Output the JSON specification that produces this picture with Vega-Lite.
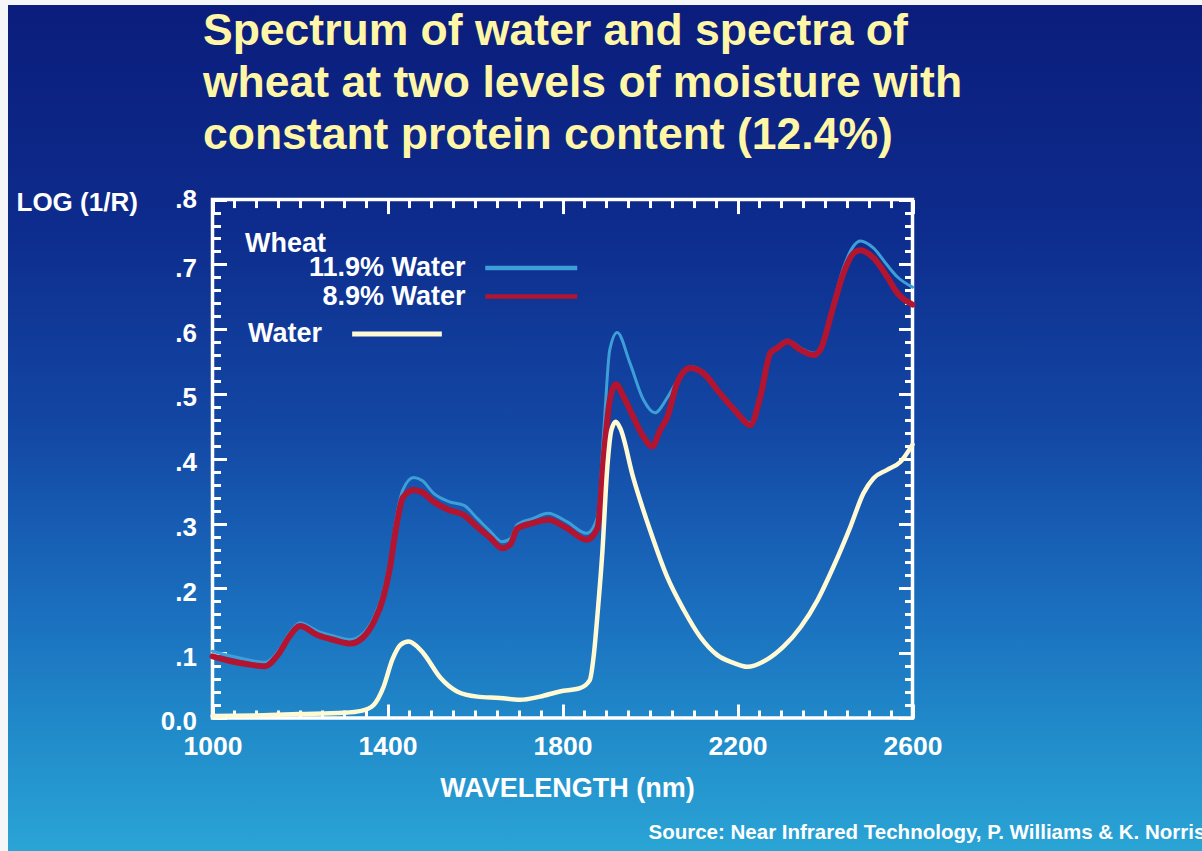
{
  "$schema": "https://vega.github.io/schema/vega-lite/v6.json",
  "width": 1194,
  "height": 846,
  "autosize": {"type": "none"},
  "padding": {"left": 8, "top": 5, "right": 0, "bottom": 0},
  "background": "#f4f6f8",
  "title": {
    "text": ["Spectrum of water and spectra of", "wheat at two levels of moisture with", "constant protein content (12.4%)"],
    "orient": "top",
    "anchor": "start",
    "frame": "group",
    "baseline": "top",
    "offset": 0,
    "dx": 195,
    "dy": 153,
    "font": "Liberation Sans",
    "fontSize": 44.5,
    "fontWeight": "bold",
    "color": "#fff6a6",
    "lineHeight": 52
  },
  "datasets": {
    "frame": [{"x1": 1000, "x2": 2600, "y1": 0, "y2": 0.8}],
    "spectra": [
      {"wl": 1000, "r": 0.103, "series": "11.9% Water"},
      {"wl": 1040, "r": 0.096, "series": "11.9% Water"},
      {"wl": 1080, "r": 0.090, "series": "11.9% Water"},
      {"wl": 1120, "r": 0.086, "series": "11.9% Water"},
      {"wl": 1150, "r": 0.103, "series": "11.9% Water"},
      {"wl": 1175, "r": 0.130, "series": "11.9% Water"},
      {"wl": 1200, "r": 0.147, "series": "11.9% Water"},
      {"wl": 1240, "r": 0.134, "series": "11.9% Water"},
      {"wl": 1280, "r": 0.126, "series": "11.9% Water"},
      {"wl": 1315, "r": 0.121, "series": "11.9% Water"},
      {"wl": 1345, "r": 0.131, "series": "11.9% Water"},
      {"wl": 1370, "r": 0.157, "series": "11.9% Water"},
      {"wl": 1390, "r": 0.193, "series": "11.9% Water"},
      {"wl": 1405, "r": 0.240, "series": "11.9% Water"},
      {"wl": 1420, "r": 0.308, "series": "11.9% Water"},
      {"wl": 1435, "r": 0.352, "series": "11.9% Water"},
      {"wl": 1460, "r": 0.371, "series": "11.9% Water"},
      {"wl": 1480, "r": 0.366, "series": "11.9% Water"},
      {"wl": 1505, "r": 0.347, "series": "11.9% Water"},
      {"wl": 1540, "r": 0.334, "series": "11.9% Water"},
      {"wl": 1575, "r": 0.328, "series": "11.9% Water"},
      {"wl": 1605, "r": 0.308, "series": "11.9% Water"},
      {"wl": 1635, "r": 0.288, "series": "11.9% Water"},
      {"wl": 1662, "r": 0.272, "series": "11.9% Water"},
      {"wl": 1681, "r": 0.277, "series": "11.9% Water"},
      {"wl": 1696, "r": 0.298, "series": "11.9% Water"},
      {"wl": 1733, "r": 0.308, "series": "11.9% Water"},
      {"wl": 1767, "r": 0.316, "series": "11.9% Water"},
      {"wl": 1810, "r": 0.303, "series": "11.9% Water"},
      {"wl": 1855, "r": 0.285, "series": "11.9% Water"},
      {"wl": 1880, "r": 0.310, "series": "11.9% Water"},
      {"wl": 1895, "r": 0.450, "series": "11.9% Water"},
      {"wl": 1908, "r": 0.568, "series": "11.9% Water"},
      {"wl": 1925, "r": 0.595, "series": "11.9% Water"},
      {"wl": 1954, "r": 0.548, "series": "11.9% Water"},
      {"wl": 1985, "r": 0.491, "series": "11.9% Water"},
      {"wl": 2011, "r": 0.471, "series": "11.9% Water"},
      {"wl": 2040, "r": 0.495, "series": "11.9% Water"},
      {"wl": 2062, "r": 0.520, "series": "11.9% Water"},
      {"wl": 2092, "r": 0.542, "series": "11.9% Water"},
      {"wl": 2122, "r": 0.534, "series": "11.9% Water"},
      {"wl": 2160, "r": 0.503, "series": "11.9% Water"},
      {"wl": 2199, "r": 0.473, "series": "11.9% Water"},
      {"wl": 2229, "r": 0.455, "series": "11.9% Water"},
      {"wl": 2252, "r": 0.497, "series": "11.9% Water"},
      {"wl": 2275, "r": 0.565, "series": "11.9% Water"},
      {"wl": 2291, "r": 0.573, "series": "11.9% Water"},
      {"wl": 2314, "r": 0.583, "series": "11.9% Water"},
      {"wl": 2344, "r": 0.571, "series": "11.9% Water"},
      {"wl": 2374, "r": 0.563, "series": "11.9% Water"},
      {"wl": 2389, "r": 0.571, "series": "11.9% Water"},
      {"wl": 2419, "r": 0.640, "series": "11.9% Water"},
      {"wl": 2442, "r": 0.694, "series": "11.9% Water"},
      {"wl": 2465, "r": 0.728, "series": "11.9% Water"},
      {"wl": 2481, "r": 0.736, "series": "11.9% Water"},
      {"wl": 2511, "r": 0.725, "series": "11.9% Water"},
      {"wl": 2542, "r": 0.699, "series": "11.9% Water"},
      {"wl": 2565, "r": 0.681, "series": "11.9% Water"},
      {"wl": 2600, "r": 0.665, "series": "11.9% Water"},
      {"wl": 1000, "r": 0.095, "series": "8.9% Water"},
      {"wl": 1040, "r": 0.088, "series": "8.9% Water"},
      {"wl": 1080, "r": 0.083, "series": "8.9% Water"},
      {"wl": 1120, "r": 0.080, "series": "8.9% Water"},
      {"wl": 1150, "r": 0.098, "series": "8.9% Water"},
      {"wl": 1175, "r": 0.125, "series": "8.9% Water"},
      {"wl": 1200, "r": 0.142, "series": "8.9% Water"},
      {"wl": 1240, "r": 0.128, "series": "8.9% Water"},
      {"wl": 1280, "r": 0.120, "series": "8.9% Water"},
      {"wl": 1315, "r": 0.115, "series": "8.9% Water"},
      {"wl": 1345, "r": 0.125, "series": "8.9% Water"},
      {"wl": 1370, "r": 0.150, "series": "8.9% Water"},
      {"wl": 1390, "r": 0.185, "series": "8.9% Water"},
      {"wl": 1405, "r": 0.230, "series": "8.9% Water"},
      {"wl": 1420, "r": 0.295, "series": "8.9% Water"},
      {"wl": 1435, "r": 0.340, "series": "8.9% Water"},
      {"wl": 1460, "r": 0.352, "series": "8.9% Water"},
      {"wl": 1480, "r": 0.348, "series": "8.9% Water"},
      {"wl": 1505, "r": 0.334, "series": "8.9% Water"},
      {"wl": 1540, "r": 0.321, "series": "8.9% Water"},
      {"wl": 1575, "r": 0.313, "series": "8.9% Water"},
      {"wl": 1605, "r": 0.295, "series": "8.9% Water"},
      {"wl": 1635, "r": 0.278, "series": "8.9% Water"},
      {"wl": 1662, "r": 0.262, "series": "8.9% Water"},
      {"wl": 1681, "r": 0.268, "series": "8.9% Water"},
      {"wl": 1696, "r": 0.292, "series": "8.9% Water"},
      {"wl": 1733, "r": 0.301, "series": "8.9% Water"},
      {"wl": 1767, "r": 0.306, "series": "8.9% Water"},
      {"wl": 1810, "r": 0.293, "series": "8.9% Water"},
      {"wl": 1855, "r": 0.275, "series": "8.9% Water"},
      {"wl": 1880, "r": 0.293, "series": "8.9% Water"},
      {"wl": 1895, "r": 0.409, "series": "8.9% Water"},
      {"wl": 1908, "r": 0.490, "series": "8.9% Water"},
      {"wl": 1922, "r": 0.515, "series": "8.9% Water"},
      {"wl": 1940, "r": 0.495, "series": "8.9% Water"},
      {"wl": 1960, "r": 0.467, "series": "8.9% Water"},
      {"wl": 1985, "r": 0.434, "series": "8.9% Water"},
      {"wl": 2005, "r": 0.419, "series": "8.9% Water"},
      {"wl": 2023, "r": 0.444, "series": "8.9% Water"},
      {"wl": 2040, "r": 0.465, "series": "8.9% Water"},
      {"wl": 2062, "r": 0.517, "series": "8.9% Water"},
      {"wl": 2092, "r": 0.540, "series": "8.9% Water"},
      {"wl": 2122, "r": 0.532, "series": "8.9% Water"},
      {"wl": 2160, "r": 0.501, "series": "8.9% Water"},
      {"wl": 2199, "r": 0.471, "series": "8.9% Water"},
      {"wl": 2229, "r": 0.452, "series": "8.9% Water"},
      {"wl": 2252, "r": 0.495, "series": "8.9% Water"},
      {"wl": 2275, "r": 0.563, "series": "8.9% Water"},
      {"wl": 2291, "r": 0.571, "series": "8.9% Water"},
      {"wl": 2314, "r": 0.581, "series": "8.9% Water"},
      {"wl": 2344, "r": 0.568, "series": "8.9% Water"},
      {"wl": 2374, "r": 0.560, "series": "8.9% Water"},
      {"wl": 2389, "r": 0.568, "series": "8.9% Water"},
      {"wl": 2419, "r": 0.635, "series": "8.9% Water"},
      {"wl": 2442, "r": 0.686, "series": "8.9% Water"},
      {"wl": 2465, "r": 0.717, "series": "8.9% Water"},
      {"wl": 2481, "r": 0.722, "series": "8.9% Water"},
      {"wl": 2511, "r": 0.710, "series": "8.9% Water"},
      {"wl": 2542, "r": 0.681, "series": "8.9% Water"},
      {"wl": 2565, "r": 0.656, "series": "8.9% Water"},
      {"wl": 2600, "r": 0.638, "series": "8.9% Water"},
      {"wl": 1000, "r": 0.003, "series": "Water"},
      {"wl": 1100, "r": 0.004, "series": "Water"},
      {"wl": 1200, "r": 0.006, "series": "Water"},
      {"wl": 1300, "r": 0.008, "series": "Water"},
      {"wl": 1340, "r": 0.011, "series": "Water"},
      {"wl": 1368, "r": 0.020, "series": "Water"},
      {"wl": 1391, "r": 0.048, "series": "Water"},
      {"wl": 1411, "r": 0.090, "series": "Water"},
      {"wl": 1430, "r": 0.113, "series": "Water"},
      {"wl": 1448, "r": 0.118, "series": "Water"},
      {"wl": 1465, "r": 0.112, "series": "Water"},
      {"wl": 1482, "r": 0.100, "series": "Water"},
      {"wl": 1521, "r": 0.062, "series": "Water"},
      {"wl": 1559, "r": 0.041, "series": "Water"},
      {"wl": 1605, "r": 0.033, "series": "Water"},
      {"wl": 1657, "r": 0.031, "series": "Water"},
      {"wl": 1703, "r": 0.028, "series": "Water"},
      {"wl": 1749, "r": 0.033, "series": "Water"},
      {"wl": 1794, "r": 0.041, "series": "Water"},
      {"wl": 1840, "r": 0.046, "series": "Water"},
      {"wl": 1862, "r": 0.058, "series": "Water"},
      {"wl": 1872, "r": 0.100, "series": "Water"},
      {"wl": 1880, "r": 0.160, "series": "Water"},
      {"wl": 1891, "r": 0.255, "series": "Water"},
      {"wl": 1902, "r": 0.383, "series": "Water"},
      {"wl": 1912, "r": 0.445, "series": "Water"},
      {"wl": 1922, "r": 0.457, "series": "Water"},
      {"wl": 1932, "r": 0.447, "series": "Water"},
      {"wl": 1962, "r": 0.370, "series": "Water"},
      {"wl": 2000, "r": 0.290, "series": "Water"},
      {"wl": 2039, "r": 0.218, "series": "Water"},
      {"wl": 2077, "r": 0.167, "series": "Water"},
      {"wl": 2115, "r": 0.125, "series": "Water"},
      {"wl": 2154, "r": 0.097, "series": "Water"},
      {"wl": 2191, "r": 0.085, "series": "Water"},
      {"wl": 2222, "r": 0.079, "series": "Water"},
      {"wl": 2267, "r": 0.090, "series": "Water"},
      {"wl": 2305, "r": 0.110, "series": "Water"},
      {"wl": 2344, "r": 0.140, "series": "Water"},
      {"wl": 2383, "r": 0.182, "series": "Water"},
      {"wl": 2419, "r": 0.233, "series": "Water"},
      {"wl": 2458, "r": 0.295, "series": "Water"},
      {"wl": 2488, "r": 0.347, "series": "Water"},
      {"wl": 2511, "r": 0.370, "series": "Water"},
      {"wl": 2542, "r": 0.383, "series": "Water"},
      {"wl": 2572, "r": 0.395, "series": "Water"},
      {"wl": 2600, "r": 0.422, "series": "Water"}
    ]
  },
  "layer": [
    {
      "data": {"name": "frame"},
      "mark": {"type": "rect", "filled": false, "color": "#ffffff", "strokeWidth": 3.5},
      "encoding": {
        "x": {
          "field": "x1", "type": "quantitative",
          "scale": {"domain": [532.57, 3261.71], "nice": false, "zero": false},
          "axis": {
            "orient": "bottom", "offset": -133,
            "values": [1000,1050,1100,1150,1200,1250,1300,1350,1400,1450,1500,1550,1600,1650,1700,1750,1800,1850,1900,1950,2000,2050,2100,2150,2200,2250,2300,2350,2400,2450,2500,2550,2600],
            "format": "d",
            "tickSize": {"condition": {"test": "(datum.value - 1000) % 400 === 0", "value": -14}, "value": -8},
            "labelExpr": "(datum.value - 1000) % 400 === 0 ? datum.label : ''",
            "labelPadding": 29,
            "labelFontSize": 26.5,
            "title": "WAVELENGTH (nm)",
            "titleFontSize": 27,
            "titleX": 559, "titleY": 70, "titleAlign": "center", "titleBaseline": "middle", "titleAngle": 0
          }
        },
        "x2": {"field": "x2"},
        "y": {
          "field": "y1", "type": "quantitative",
          "scale": {"domain": [-0.20525, 1.10031], "nice": false, "zero": false},
          "axis": {
            "orient": "left", "offset": -204.5,
            "values": [0,0.02,0.04,0.06,0.08,0.1,0.12,0.14,0.16,0.18,0.2,0.22,0.24,0.26,0.28,0.3,0.32,0.34,0.36,0.38,0.4,0.42,0.44,0.46,0.48,0.5,0.52,0.54,0.56,0.58,0.6,0.62,0.64,0.66,0.68,0.7,0.72,0.74,0.76,0.78,0.8],
            "tickSize": {"condition": {"test": "round(datum.value*100) % 10 === 0", "value": -14}, "value": -8},
            "labelExpr": "round(datum.value*100) % 10 === 0 ? (datum.value === 0 ? '0.0' : '.' + round(datum.value*10)) : ''",
            "labelOffset": {"condition": {"test": "datum.value > 0.79", "value": 0}, "value": 4},
            "labelPadding": 30,
            "title": "LOG (1/R)",
            "titleAngle": 0, "titleX": -196.5, "titleY": 197, "titleAlign": "left", "titleBaseline": "middle"
          }
        },
        "y2": {"field": "y2"}
      }
    },
    {
      "data": {"name": "spectra"},
      "transform": [{"filter": "datum.series !== 'Water'"}],
      "mark": {"type": "line", "interpolate": "monotone", "strokeCap": "round", "strokeJoin": "round"},
      "encoding": {
        "x": {
          "field": "wl", "type": "quantitative",
          "scale": {"domain": [532.57, 3261.71], "nice": false, "zero": false},
          "axis": {
            "orient": "top", "offset": -194.6,
            "values": [1000,1050,1100,1150,1200,1250,1300,1350,1400,1450,1500,1550,1600,1650,1700,1750,1800,1850,1900,1950,2000,2050,2100,2150,2200,2250,2300,2350,2400,2450,2500,2550,2600],
            "tickSize": {"condition": {"test": "(datum.value - 1000) % 400 === 0", "value": -14}, "value": -8},
            "labels": false,
            "title": null
          }
        },
        "y": {
          "field": "r", "type": "quantitative",
          "scale": {"domain": [-0.20525, 1.10031], "nice": false, "zero": false},
          "axis": {
            "orient": "right", "offset": -289.5,
            "values": [0,0.02,0.04,0.06,0.08,0.1,0.12,0.14,0.16,0.18,0.2,0.22,0.24,0.26,0.28,0.3,0.32,0.34,0.36,0.38,0.4,0.42,0.44,0.46,0.48,0.5,0.52,0.54,0.56,0.58,0.6,0.62,0.64,0.66,0.68,0.7,0.72,0.74,0.76,0.78,0.8],
            "tickSize": {"condition": {"test": "round(datum.value*100) % 10 === 0", "value": -14}, "value": -8},
            "labels": false,
            "title": "Source: Near Infrared Technology, P. Williams & K. Norris",
            "titleAngle": 0, "titleX": -264.5, "titleY": 827, "titleAlign": "left", "titleBaseline": "middle",
            "titleFontSize": 20.5
          }
        },
        "stroke": {
          "field": "series", "type": "nominal",
          "scale": {"domain": ["11.9% Water", "8.9% Water"], "range": ["#3e9ed8", "#b3142f"]},
          "legend": {
            "title": "Wheat",
            "orient": "none",
            "legendX": 237,
            "legendY": 226,
            "padding": 0,
            "symbolType": "M-4,0H4",
            "symbolSize": 529,
            "symbolStrokeWidth": 4.5,
            "symbolOffset": 272.25,
            "labelAlign": "right",
            "labelOffset": -79.75,
            "labelLimit": 400,
            "rowPadding": 1.5,
            "titlePadding": -4,
            "titleBaseline": "top",
            "titleAnchor": "start"
          }
        },
        "strokeWidth": {
          "field": "series", "type": "nominal",
          "scale": {"domain": ["11.9% Water", "8.9% Water"], "range": [3, 6]},
          "legend": null
        }
      }
    },
    {
      "data": {"name": "spectra"},
      "transform": [{"filter": "datum.series === 'Water'"}],
      "mark": {"type": "line", "interpolate": "monotone", "strokeWidth": 4.5, "strokeCap": "round"},
      "encoding": {
        "x": {"field": "wl", "type": "quantitative", "scale": {"domain": [532.57, 3261.71], "nice": false, "zero": false}, "axis": null},
        "y": {"field": "r", "type": "quantitative", "scale": {"domain": [-0.20525, 1.10031], "nice": false, "zero": false}, "axis": null},
        "stroke": {
          "field": "series", "type": "nominal",
          "scale": {"domain": ["Water"], "range": ["#fff9d4"]},
          "legend": {
            "title": null,
            "orient": "none",
            "legendX": 240,
            "legendY": 315,
            "padding": 0,
            "symbolType": "M-3.9,0H3.9",
            "symbolSize": 529,
            "symbolStrokeWidth": 5,
            "symbolOffset": 135,
            "labelAlign": "left",
            "labelOffset": -163,
            "labelLimit": 400
          }
        }
      }
    }
  ],
  "resolve": {
    "scale": {"stroke": "independent"},
    "axis": {"x": "independent", "y": "independent"}
  },
  "config": {
    "view": {
      "stroke": null,
      "fill": {
        "gradient": "linear", "x1": 0, "y1": 0, "x2": 0, "y2": 1,
        "stops": [
          {"offset": 0, "color": "#0b1d7c"},
          {"offset": 0.25, "color": "#0d2b8c"},
          {"offset": 0.5, "color": "#1347a4"},
          {"offset": 0.7, "color": "#1a6cbd"},
          {"offset": 0.85, "color": "#2089c9"},
          {"offset": 1, "color": "#2aa4d5"}
        ]
      }
    },
    "axis": {
      "domain": false,
      "grid": false,
      "tickColor": "#ffffff",
      "tickWidth": 3,
      "labelColor": "#ffffff",
      "labelFont": "Liberation Sans",
      "labelFontSize": 26,
      "labelFontWeight": "bold",
      "labelFlush": false,
      "labelOverlap": false,
      "titleColor": "#ffffff",
      "titleFont": "Liberation Sans",
      "titleFontSize": 26,
      "titleFontWeight": "bold"
    },
    "legend": {
      "labelColor": "#ffffff",
      "labelFont": "Liberation Sans",
      "labelFontSize": 27,
      "labelFontWeight": "bold",
      "titleColor": "#ffffff",
      "titleFont": "Liberation Sans",
      "titleFontSize": 27,
      "titleFontWeight": "bold"
    }
  }
}
